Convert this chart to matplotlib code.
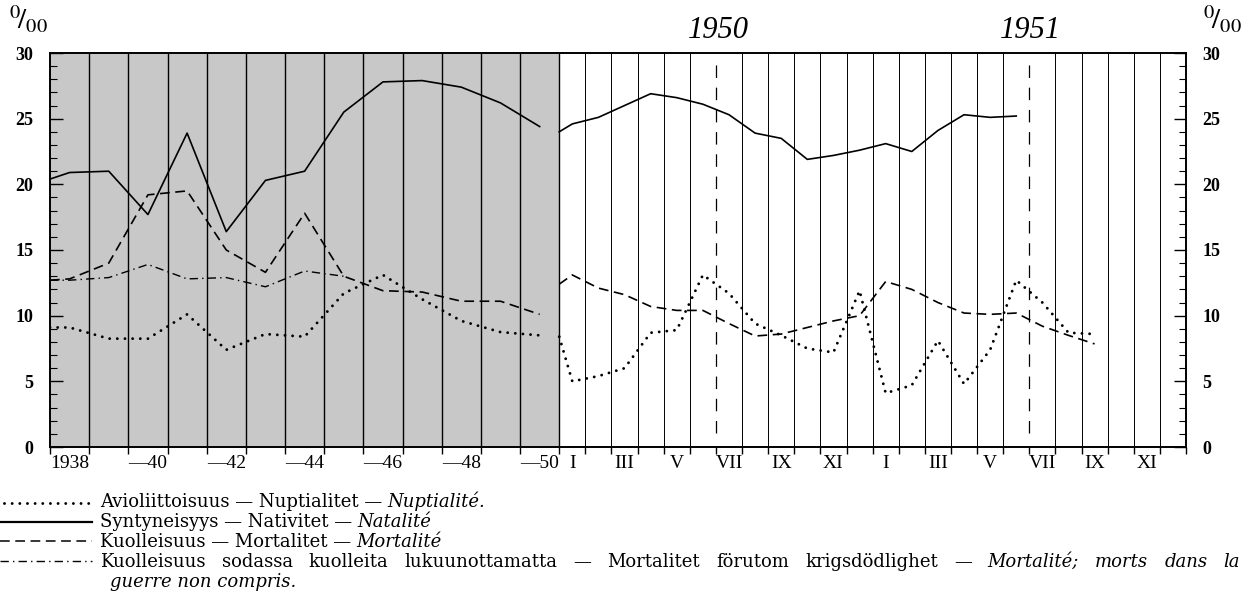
import numpy as np
import matplotlib
matplotlib.use("Agg")
import matplotlib.pyplot as plt

plt.rcParams['font.family'] = ['Liberation Serif', 'DejaVu Serif']
plt.rcParams['mathtext.fontset'] = 'stix'
plt.rcParams['lines.scale_dashes'] = False

# yearly rates per 1000, 1938-1950
year_labels = ["1938", "", "—40", "", "—42", "", "—44", "", "—46", "", "—48", "", "—50"]
natality_y = [20.9, 21.0, 17.7, 23.9, 16.4, 20.3, 21.0, 25.5, 27.8, 27.9, 27.4, 26.2, 24.4]
mortality_y = [12.8, 14.0, 19.2, 19.5, 15.0, 13.3, 17.8, 13.0, 11.9, 11.8, 11.1, 11.1, 10.1]
mortality_peace_y = [12.7, 12.9, 13.9, 12.8, 12.9, 12.2, 13.4, 13.0]  # 1938-1945
nuptiality_y = [9.1, 8.25, 8.25, 10.1, 7.4, 8.6, 8.4, 11.7, 13.1, 11.25, 9.6, 8.75, 8.5]
# where the lines come in at the left edge
natality_y0 = 20.4
mortality_y0 = 12.7
mortality_peace_y0 = 12.7
nuptiality_y0 = 9.1

# monthly rates per 1000, Jan 1950 - Dec 1951
month_labels = ["I", "", "III", "", "V", "", "VII", "", "IX", "", "XI", ""] * 2
natality_m = [24.6, 25.1, 26.0, 26.9, 26.6, 26.1, 25.3, 23.9, 23.5, 21.9, 22.2, 22.6,
              23.1, 22.5, 24.1, 25.3, 25.1, 25.2]
mortality_m = [13.1, 12.1, 11.6, 10.7, 10.4, 10.4, 9.4, 8.45, 8.6, 9.1, 9.6, 10.0,
               12.6, 12.0, 11.0, 10.2, 10.1, 10.2, 9.2, 8.5, 7.85]
nuptiality_m = [5.0, 5.4, 6.0, 8.7, 8.9, 13.1, 11.7, 9.4, 8.5, 7.5, 7.2, 11.9,
                4.1, 4.7, 8.1, 4.8, 7.4, 12.7, 11.0, 8.7, 8.6]
natality_m0 = 24.0
mortality_m0 = 12.4
nuptiality_m0 = 8.4

YW, MW = 1.5, 1.0
n_years, n_months = len(year_labels), len(month_labels)
split = n_years * YW
year_x = YW * (np.arange(n_years) + 0.5)
month_x = split + MW * (np.arange(n_months) + 0.5)

solid = dict(color='k', lw=1.2, ls='-')
dashed = dict(color='k', lw=1.2, ls=(0, (7, 4)))
dotted = dict(color='k', lw=2.1, ls=(0, (0.01, 5.5)), dash_capstyle='round')
dashdot = dict(color='k', lw=1.0, ls=(0, (6, 3, 1, 3)))

fig = plt.figure(figsize=(12.49, 6.06), dpi=100)
ax = fig.add_axes([50 / 1249, 1 - 447 / 606, 1136 / 1249, 394 / 606])


def draw(x0, xs, start, vals, style):
    ax.plot(np.r_[x0, xs[:len(vals)]], np.r_[start, vals], **style)


draw(0, year_x, natality_y0, natality_y, solid)
draw(0, year_x, mortality_y0, mortality_y, dashed)
draw(0, year_x, mortality_peace_y0, mortality_peace_y, dashdot)
draw(0, year_x, nuptiality_y0, nuptiality_y, dotted)
draw(split, month_x, natality_m0, natality_m, solid)
draw(split, month_x, mortality_m0, mortality_m, dashed)
draw(split, month_x, nuptiality_m0, nuptiality_m, dotted)

ax.axvspan(0, split, color='#c8c8c8', lw=0, zorder=0)
for k in range(1, n_years + 1):
    ax.axvline(k * YW, color='k', lw=1.0, zorder=1)
for m in range(1, n_months):
    if m % 12 == 6:
        ax.axvline(split + m * MW, ymin=0.035, ymax=0.98, color='k', lw=0.9,
                   ls=(0, (9, 7)), zorder=1)
    else:
        ax.axvline(split + m * MW, color='k', lw=0.7, zorder=1)

ax.set_xlim(0, split + n_months * MW)
ax.set_ylim(0, 30)
bounds = np.r_[np.arange(n_years + 1) * YW, split + np.arange(1, n_months + 1) * MW]
ax.set_xticks(bounds)
ax.set_xticklabels([])
ax.set_xticks(np.r_[year_x, month_x], year_labels + month_labels, minor=True)
ax.tick_params(axis='x', which='major', direction='out', length=5, width=1)
ax.tick_params(axis='x', which='minor', length=0, pad=6, labelsize=14)
ax.set_yticks(range(0, 31, 5))
ax.set_yticks(range(31), minor=True)
ax.tick_params(axis='y', which='both', direction='in', left=True, right=True,
               labelleft=True, labelright=True)
ax.tick_params(axis='y', which='major', length=9, width=1, pad=12, labelsize=13)
ax.tick_params(axis='y', which='minor', length=5, width=0.8)
for lab in ax.get_yticklabels():
    lab.set_fontweight('bold')
for s in ax.spines.values():
    s.set_linewidth(1.4)

# overlay in pixel coordinates for headings and the key
lax = fig.add_axes([0, 0, 1, 1])
lax.set_xlim(0, 1249)
lax.set_ylim(606, 0)
lax.axis('off')
lax.patch.set_alpha(0)

lax.text(28, 19, r'$^{0}\!/_{00}$', fontsize=21, ha='center', va='center')
lax.text(1222, 19, r'$^{0}\!/_{00}$', fontsize=21, ha='center', va='center')
lax.text(718, 30, '1950', fontsize=22, fontstyle='italic', ha='center', va='center')
lax.text(1030, 30, '1951', fontsize=22, fontstyle='italic', ha='center', va='center')

FS = 13
KEY_FONT = 'DejaVu Serif'
lax.plot([4, 90], [503, 503], **dotted)
lax.plot([0, 92], [522, 522], color='k', lw=1.6)
lax.plot([0, 92], [541, 541], color='k', lw=1.1, ls=(0, (7, 4)))
lax.plot([0, 92], [561, 561], **dashdot)


def write(parts, x, y, x_end=None, space=5):
    texts = [lax.text(x, y, s, fontsize=FS, va='baseline', family=KEY_FONT,
                      fontstyle='italic' if it else 'normal') for s, it in parts]
    fig.canvas.draw()
    r = fig.canvas.get_renderer()
    widths = [t.get_window_extent(r).width for t in texts]
    if x_end is not None:
        space = (x_end - x - sum(widths)) / (len(parts) - 1)
    for t, w in zip(texts, widths):
        t.set_x(x)
        x += w + space


write([("Avioliittoisuus — Nuptialitet —", False), ("Nuptialité.", True)], 100, 507)
write([("Syntyneisyys — Nativitet —", False), ("Natalité", True)], 100, 527)
write([("Kuolleisuus — Mortalitet —", False), ("Mortalité", True)], 100, 547)
words4 = [("Kuolleisuus", False), ("sodassa", False), ("kuolleita", False),
          ("lukuunottamatta", False), ("—", False), ("Mortalitet", False),
          ("förutom", False), ("krigsdödlighet", False), ("—", False),
          ("Mortalité;", True), ("morts", True), ("dans", True), ("la", True)]
write(words4, 100, 567, x_end=1240)
write([("guerre non compris.", True)], 110, 587)

fig.savefig("out.png", dpi=100)
